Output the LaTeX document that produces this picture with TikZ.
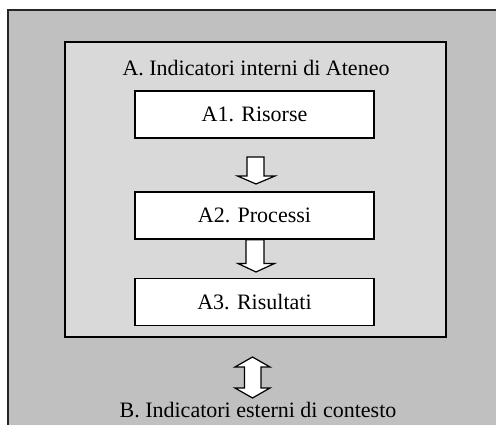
\documentclass[tikz,border=0pt]{standalone}
\usepackage{fontspec}
\setmainfont{Liberation Serif}
\begin{document}
\begin{tikzpicture}[x=1pt,y=-1pt,
  outerpanel/.style={draw=black!85, line width=1.6pt, fill=outergray},
  innerpanel/.style={draw=black, line width=1.6pt, fill=innergray},
  stagebox/.style={draw=black, line width=1.6pt, fill=white, minimum width=239pt, minimum height=47pt, font=\fontsize{22}{25}\selectfont},
  label/.style={font=\fontsize{22}{25}\selectfont, inner sep=0pt},
  blockarrow/.style={draw=black, line width=1.2pt, fill=white, line join=miter}]
\definecolor{outergray}{HTML}{C0C0C0}
\definecolor{innergray}{HTML}{D9D9D9}
\useasboundingbox (0,0) rectangle (496,425);
\fill[white] (0,0) rectangle (496,425);
% outer frame: external context
\draw[outerpanel] (8,10) rectangle (520,450);
% inner frame: internal indicators
\draw[innerpanel] (65,42) rectangle (446,337);
\node[label] (A) at (256,68) {A. Indicatori interni di Ateneo};
\node[stagebox] (A1) at (254.5,114.5) {A1. Risorse};
\node[stagebox] (A2) at (254.5,215.5) {A2. Processi};
\node[stagebox] (A3) at (254.5,302) {A3. Risultati};
\node[label] (B) at (258,410) {B. Indicatori esterni di contesto};
% block arrows between stages
\draw[blockarrow] (247,157) -- (264,157) -- (264,176) -- (275,176) -- (256,184) -- (237.5,176) -- (247,176) -- cycle;
\draw[blockarrow] (A2.south -| 246,0) -- (A2.south -| 264,0) -- (264,263.5) -- (274.5,263.5) -- (256,272) -- (238,263.5) -- (246,263.5) -- cycle;
% double arrow between internal and external indicators
\draw[blockarrow] (252.5,357) -- (270,367) -- (261,367) -- (261,388) -- (270,388) -- (252.5,398) -- (235,388) -- (244.5,388) -- (244.5,367) -- (235,367) -- cycle;
\end{tikzpicture}
\end{document}
